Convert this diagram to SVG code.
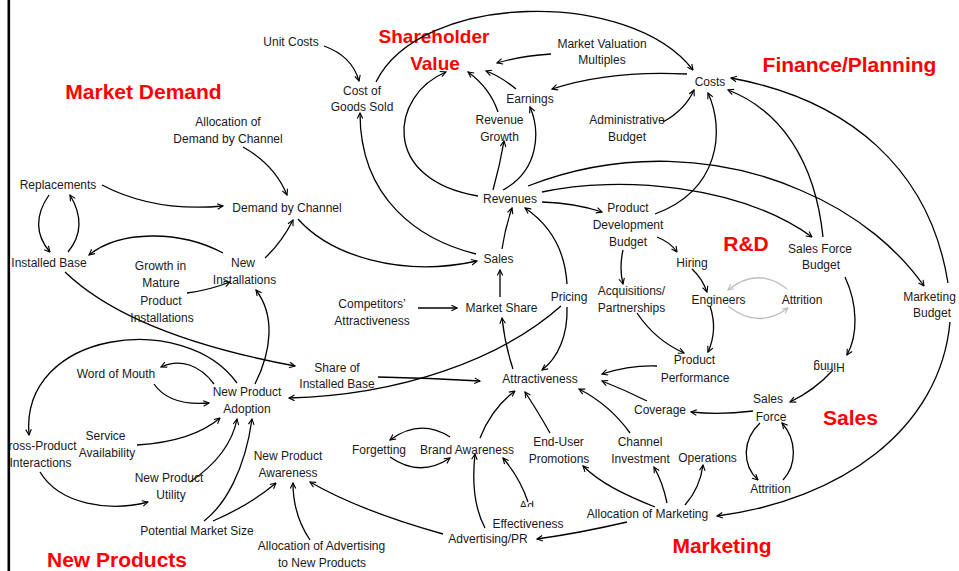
<svg xmlns="http://www.w3.org/2000/svg" width="959" height="571" viewBox="0 0 959 571">
<style>
  .t { font-family: "Liberation Sans", Arial, Helvetica, sans-serif; font-size: 12px; fill: #1a1a1a; text-anchor: middle; }
  .h { font-family: "Liberation Sans", Arial, Helvetica, sans-serif; font-weight: bold; fill: #ff0000; text-anchor: middle; }
  .c path { fill: none; stroke: #000; stroke-width: 1.3; marker-end: url(#arr); }
  .c path.g { stroke: #bdbdbd; marker-end: url(#arrg); }
</style>
<defs>
  <marker id="arr" viewBox="0 0 10 10" refX="9" refY="5" markerWidth="7" markerHeight="7" orient="auto" markerUnits="userSpaceOnUse">
    <path d="M1,1 L9,5 L1,9" fill="none" stroke="#000" stroke-width="1.6"/>
  </marker>
  <marker id="arrg" viewBox="0 0 10 10" refX="9" refY="5" markerWidth="7" markerHeight="7" orient="auto" markerUnits="userSpaceOnUse">
    <path d="M1,1 L9,5 L1,9" fill="none" stroke="#bdbdbd" stroke-width="1.6"/>
  </marker>
  <clipPath id="adclip"><rect x="500" y="490" width="60" height="17"/></clipPath>
</defs>
<rect x="0" y="0" width="959" height="571" fill="#fff"/>
<rect x="7.5" y="0" width="2.6" height="571" fill="#000"/>

<!-- sector headings -->
<g id="sectors">
  <text class="h" x="143.5" y="99" font-size="21">Market Demand</text>
  <text class="h" x="434" y="43" font-size="19">Shareholder</text>
  <text class="h" x="435" y="70" font-size="19">Value</text>
  <text class="h" x="849.5" y="72" font-size="21">Finance/Planning</text>
  <text class="h" x="746" y="251" font-size="21">R&amp;D</text>
  <text class="h" x="850.5" y="425" font-size="21">Sales</text>
  <text class="h" x="722" y="553" font-size="21">Marketing</text>
  <text class="h" x="117" y="567" font-size="21">New Products</text>
</g>

<!-- connectors -->
<g id="connectors" class="c">
  <path d="M324,46 Q352,56 359,81"/>
  <path d="M376,82 C420,-8 630,-12 693,70"/>
  <path d="M551,54 Q520,56 497,63"/>
  <path d="M687,74 Q610,70 552,89"/>
  <path d="M516,89 Q500,76 486,71"/>
  <path d="M498,112 Q490,88 468,72"/>
  <path d="M478,196 C380,180 390,95 446,72"/>
  <path d="M493,190 Q500,165 504,141"/>
  <path d="M503,190 C540,170 540,130 530,107"/>
  <path d="M663,122 Q685,110 694,90"/>
  <path d="M655,214 C720,190 725,130 708,93"/>
  <path d="M823,237 C815,160 780,110 728,90"/>
  <path d="M948,283 C930,170 850,100 731,78"/>
  <path d="M950,322 C940,430 840,500 717,516"/>
  <path d="M542,202 Q575,203 602,212"/>
  <path d="M657,237 Q670,242 677,252"/>
  <path d="M623,250 Q619,268 623,284"/>
  <path d="M692,269 Q702,278 707,292"/>
  <path class="g" d="M787,289 Q758,266 728,290"/>
  <path class="g" d="M728,306 Q758,330 788,308"/>
  <path d="M710,306 Q718,330 708,352"/>
  <path d="M637,313 Q655,340 684,353"/>
  <path d="M657,366 Q630,365 602,374"/>
  <path d="M647,401 Q625,390 602,381"/>
  <path d="M630,433 Q610,405 579,389"/>
  <path d="M753,411 Q720,415 691,412"/>
  <path d="M845,277 C858,305 858,335 847,355"/>
  <path d="M833,370 Q815,390 790,402"/>
  <path d="M760,423 C742,440 742,465 758,480"/>
  <path d="M783,480 C797,465 797,440 782,423"/>
  <path d="M667,503 Q663,483 654,467"/>
  <path d="M685,505 Q700,488 703,465"/>
  <path d="M655,507 C625,495 600,483 583,466"/>
  <path d="M627,522 Q580,533 537,539"/>
  <path d="M485,528 Q470,500 475,454"/>
  <path d="M528,502 Q520,478 503,458"/>
  <path d="M480,438 Q492,408 515,391"/>
  <path d="M550,433 Q537,410 525,392"/>
  <path d="M450,437 Q420,418 390,440"/>
  <path d="M390,457 Q420,478 450,458"/>
  <path d="M443,534 C400,522 350,505 310,482"/>
  <path d="M310,540 Q293,515 293,483"/>
  <path d="M213,521 Q250,505 276,483"/>
  <path d="M204,521 C225,505 245,470 252,419"/>
  <path d="M190,482 C215,465 232,445 237,419"/>
  <path d="M137,445 C170,443 200,435 220,418"/>
  <path d="M154,384 C165,400 185,405 209,403"/>
  <path d="M214,384 C200,365 180,358 161,367"/>
  <path d="M237,383 C185,310 20,330 29,435"/>
  <path d="M40,472 C60,505 110,512 148,502"/>
  <path d="M65,272 C120,325 220,352 295,366"/>
  <path d="M378,377 Q430,378 480,381"/>
  <path d="M561,306 C500,360 400,395 289,398"/>
  <path d="M567,284 C565,250 550,225 525,208"/>
  <path d="M567,307 C568,335 558,358 542,370"/>
  <path d="M500,297 L500,270"/>
  <path d="M502,249 Q505,228 512,208"/>
  <path d="M418,308 L457,308"/>
  <path d="M513,369 Q505,345 502,318"/>
  <path d="M298,219 C330,255 400,278 477,261"/>
  <path d="M476,254 C420,240 360,200 360,113"/>
  <path d="M102,185 C140,205 180,210 223,206"/>
  <path d="M243,147 Q275,165 287,195"/>
  <path d="M265,258 Q282,242 293,220"/>
  <path d="M223,253 C180,230 120,230 89,255"/>
  <path d="M49,195 C35,215 35,235 50,252"/>
  <path d="M68,252 C82,235 82,215 70,195"/>
  <path d="M187,293 Q210,290 230,282"/>
  <path d="M255,384 C272,350 275,315 256,290"/>
  <path d="M528,186 C620,150 720,155 800,190 C860,215 900,252 924,286"/>
  <path d="M542,192 C620,175 740,185 812,237"/>
</g>

<!-- nodes -->
<g id="unit-costs"><text class="t" x="291" y="46">Unit Costs</text></g>
<g id="cost-of-goods-sold"><text class="t" x="362" y="94.5">Cost of</text><text class="t" x="362" y="111">Goods Sold</text></g>
<g id="market-valuation-multiples"><text class="t" x="602" y="47.5">Market Valuation</text><text class="t" x="602" y="64">Multiples</text></g>
<g id="costs"><text class="t" x="710" y="86">Costs</text></g>
<g id="earnings"><text class="t" x="530" y="103">Earnings</text></g>
<g id="revenue-growth"><text class="t" x="499.5" y="124">Revenue</text><text class="t" x="499.5" y="140.5">Growth</text></g>
<g id="administrative-budget"><text class="t" x="627" y="124">Administrative</text><text class="t" x="627" y="141">Budget</text></g>
<g id="allocation-of-demand"><text class="t" x="228" y="126">Allocation of</text><text class="t" x="228" y="143">Demand by Channel</text></g>
<g id="replacements"><text class="t" x="58" y="189">Replacements</text></g>
<g id="demand-by-channel"><text class="t" x="287" y="211.5">Demand by Channel</text></g>
<g id="revenues"><text class="t" x="510" y="203">Revenues</text></g>
<g id="product-development-budget"><text class="t" x="628" y="212">Product</text><text class="t" x="628" y="229">Development</text><text class="t" x="628" y="246">Budget</text></g>
<g id="rd-hiring"><text class="t" x="692" y="267">Hiring</text></g>
<g id="sales-force-budget"><text class="t" x="820" y="252.5">Sales Force</text><text class="t" x="821" y="269">Budget</text></g>
<g id="installed-base"><text class="t" x="49" y="267">Installed Base</text></g>
<g id="growth-mature"><text class="t" x="160.5" y="270">Growth in</text><text class="t" x="161" y="287.3">Mature</text><text class="t" x="161" y="304.5">Product</text><text class="t" x="162" y="321.7">Installations</text></g>
<g id="new-installations"><text class="t" x="243" y="267.3">New</text><text class="t" x="244.5" y="284.3">Installations</text></g>
<g id="sales"><text class="t" x="498.5" y="262.7">Sales</text></g>
<g id="competitors-attractiveness"><text class="t" x="372" y="308.3">Competitors’</text><text class="t" x="372" y="325">Attractiveness</text></g>
<g id="market-share"><text class="t" x="501.5" y="311.7">Market Share</text></g>
<g id="pricing"><text class="t" x="569" y="300.5">Pricing</text></g>
<g id="acquisitions"><text class="t" x="631.5" y="295">Acquisitions/</text><text class="t" x="631.5" y="311.7">Partnerships</text></g>
<g id="engineers"><text class="t" x="718.5" y="304">Engineers</text></g>
<g id="rd-attrition"><text class="t" x="802" y="304">Attrition</text></g>
<g id="marketing-budget"><text class="t" x="929.5" y="300.7">Marketing</text><text class="t" x="932" y="316.7">Budget</text></g>
<g id="word-of-mouth"><text class="t" x="116" y="378.3">Word of Mouth</text></g>
<g id="new-product-adoption"><text class="t" x="247" y="396">New Product</text><text class="t" x="247" y="413.3">Adoption</text></g>
<g id="share-of-installed-base"><text class="t" x="337" y="371.7">Share of</text><text class="t" x="337" y="388.3">Installed Base</text></g>
<g id="attractiveness"><text class="t" x="540" y="383.3">Attractiveness</text></g>
<g id="product-performance"><text class="t" x="694.5" y="364">Product</text><text class="t" x="695" y="381.7">Performance</text></g>
<g id="sales-hiring"><text class="t" x="829" y="365" transform="rotate(180 829 364)">Hiring</text></g>
<g id="sales-force"><text class="t" x="768" y="403.3">Sales</text><text class="t" x="771" y="420.7">Force</text></g>
<g id="coverage"><text class="t" x="660" y="414">Coverage</text></g>
<g id="service-availability"><text class="t" x="105.5" y="440">Service</text><text class="t" x="107" y="456.7">Availability</text></g>
<g id="cross-product-interactions"><text class="t" x="42.5" y="450">ross-Product</text><text class="t" x="40.5" y="466.7">Interactions</text></g>
<g id="new-product-utility"><text class="t" x="169" y="481.7">New Product</text><text class="t" x="171" y="499">Utility</text></g>
<g id="potential-market-size"><text class="t" x="197" y="535">Potential Market Size</text></g>
<g id="new-product-awareness"><text class="t" x="288" y="460">New Product</text><text class="t" x="288" y="476.7">Awareness</text></g>
<g id="allocation-of-advertising"><text class="t" x="321.5" y="550">Allocation of Advertising</text><text class="t" x="322" y="566.7">to New Products</text></g>
<g id="forgetting"><text class="t" x="379" y="454">Forgetting</text></g>
<g id="brand-awareness"><text class="t" x="467" y="454">Brand Awareness</text></g>
<g id="end-user-promotions"><text class="t" x="558.5" y="446">End-User</text><text class="t" x="559" y="462.7">Promotions</text></g>
<g id="channel-investment"><text class="t" x="640" y="445.7">Channel</text><text class="t" x="640.5" y="463">Investment</text></g>
<g id="operations"><text class="t" x="707.5" y="461.7">Operations</text></g>
<g id="sales-attrition"><text class="t" x="770.5" y="492.7">Attrition</text></g>
<g id="allocation-of-marketing"><text class="t" x="647.5" y="518.3">Allocation of Marketing</text></g>
<g id="ad-effectiveness"><text class="t" x="526.5" y="510.3" clip-path="url(#adclip)">Ad</text><text class="t" x="528" y="528.3">Effectiveness</text></g>
<g id="advertising-pr"><text class="t" x="488" y="542.7">Advertising/PR</text></g>
</svg>
